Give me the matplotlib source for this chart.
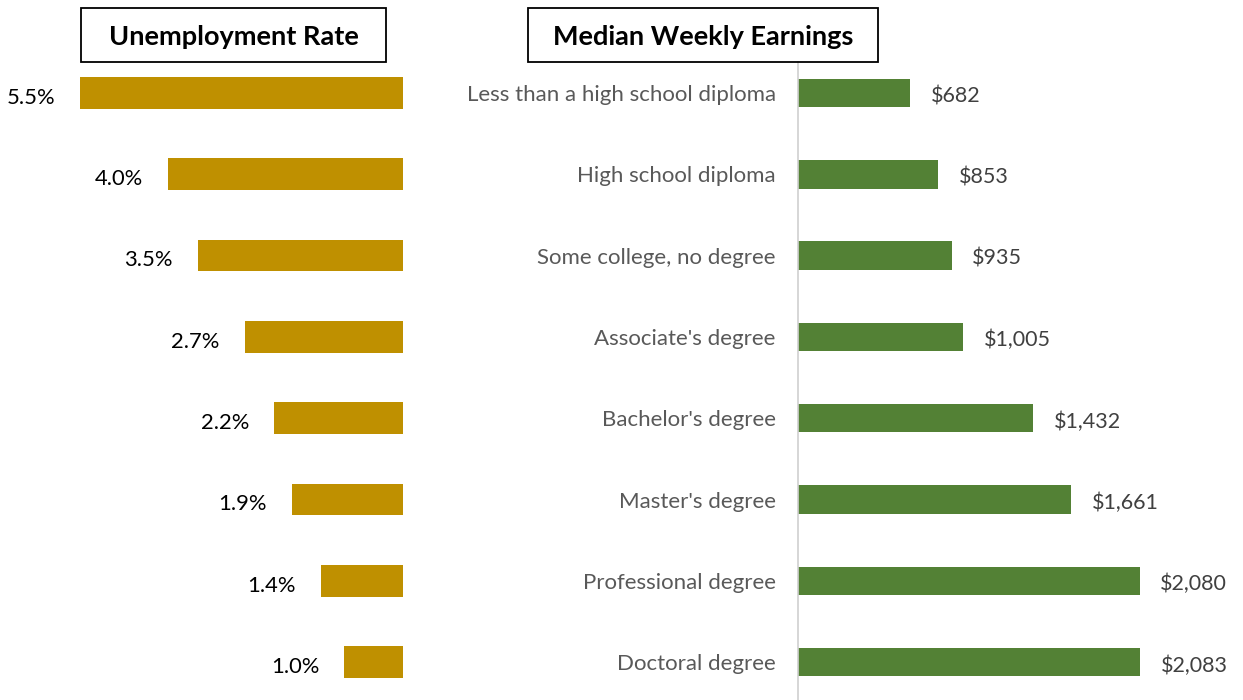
import numpy as np
import matplotlib
matplotlib.use("Agg")
from matplotlib import pyplot as plt
from matplotlib.patches import Rectangle

plt.rcParams['font.family'] = ['Lato', 'DejaVu Sans']

### Education level vs unemployment and earnings

categories = ["Less than a high school diploma", "High school diploma",
              "Some college, no degree", "Associate's degree",
              "Bachelor's degree", "Master's degree",
              "Professional degree", "Doctoral degree"]
unemployment = [5.5, 4.0, 3.5, 2.7, 2.2, 1.9, 1.4, 1.0]
earnings = [682, 853, 935, 1005, 1432, 1661, 2080, 2083]

W, H = 1243, 700
fig = plt.figure(figsize=(W / 100, H / 100), dpi=100)

def px_box(x0, y0, x1, y1):
    # pixel box (top-left origin) -> figure fraction rect
    return [x0 / W, 1 - y1 / H, (x1 - x0) / W, (y1 - y0) / H]

ypos = np.arange(len(categories))
ylims = (7.466, -0.381)

# left chart: unemployment, bars growing to the left
ax1 = fig.add_axes(px_box(4, 62, 403, 700))
ax1.barh(ypos, unemployment, height=0.39, color="#BF9000")
ax1.set_xlim(6.8, 0)
ax1.set_ylim(*ylims)
ax1.axis("off")
for y, v in zip(ypos, unemployment):
    ax1.annotate(f"{v:.1f}%", (v, y), xytext=(-18, -2), textcoords="offset points",
                 ha="right", va="center_baseline", fontsize=15.8, color="#000000")

# right chart: weekly earnings
ax2 = fig.add_axes(px_box(798, 62, 1243, 700))
ax2.barh(ypos, earnings, height=0.35, color="#538135")
ax2.set_xlim(0, 2710)
ax2.set_ylim(*ylims)
for s in ["top", "right", "bottom"]:
    ax2.spines[s].set_visible(False)
ax2.spines["left"].set_color("#D0D0D0")
ax2.spines["left"].set_linewidth(1.2)
ax2.set_xticks([])
ax2.set_yticks(ypos)
ax2.set_yticklabels(categories, fontsize=16, color="#595959", va="center_baseline")
ax2.tick_params(axis="y", length=0, pad=16)
for y, v in zip(ypos, earnings):
    ax2.annotate(f"${v:,}", (v, y), xytext=(15, -1), textcoords="offset points",
                 ha="left", va="center_baseline", fontsize=15.5, color="#404040")

# title boxes
for (x0, x1), title in [((81, 386), "Unemployment Rate"), ((528, 878), "Median Weekly Earnings")]:
    r = px_box(x0, 8, x1, 62)
    fig.patches.append(Rectangle((r[0], r[1]), r[2], r[3], transform=fig.transFigure,
                                 fill=False, edgecolor="black", linewidth=1.3))
    fig.text(r[0] + r[2] / 2, r[1] + r[3] / 2, title, ha="center", va="center_baseline",
             fontsize=19.5, fontweight="bold", color="black")

fig.savefig("out.png", dpi=100)
